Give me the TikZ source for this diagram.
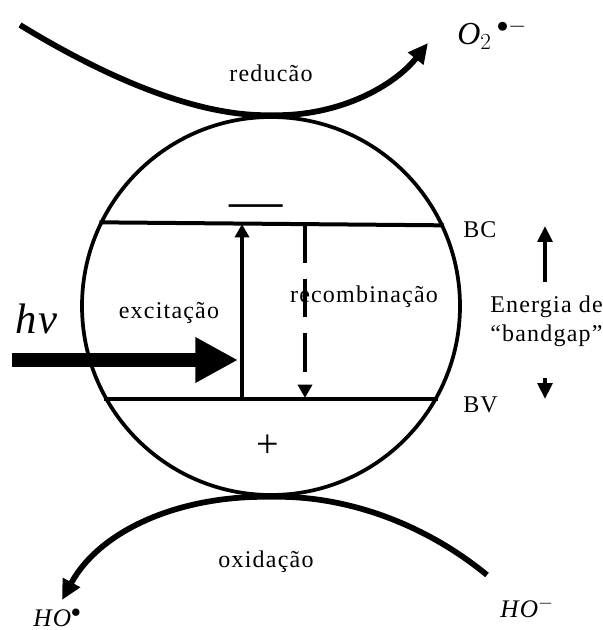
\documentclass[tikz,border=0pt]{standalone}
\usepackage{fontspec}
\setmainfont{Liberation Serif}[LetterSpace=5]
\usetikzlibrary{arrows.meta}

\begin{document}
\begin{tikzpicture}[x=0.75pt, y=-0.75pt,
  every node/.style={font=\fontsize{18}{21}\selectfont, inner sep=0pt},
  band/.style={line width=3pt},
  flow/.style={line width=4.3pt, -{Triangle[length=15pt, width=14pt]}},
  trans/.style={line width=2.8pt, -{Triangle[length=10pt, width=10.5pt]}},
  gaparr/.style={line width=3pt, -{Triangle[length=12pt, width=11pt]}},
  beam/.style={line width=10.5pt, -{Triangle[length=32pt, width=32pt]}},
  chem/.style={font=\fontsize{19}{21}\selectfont\itshape}
]
  \useasboundingbox (0,0) rectangle (602,630);

  % semiconductor particle
  \node[draw, circle, line width=2.8pt, minimum size=283.5pt] (grain) at (271,306) {};

  % bands
  \draw[band] (grain.154.3) -- (grain.25.7);
  \draw[band] (grain.209.1) -- (grain.-29.1);
  \node[anchor=base west] (bc) at (463,238) {BC};
  \node[anchor=base west] (bv) at (463,412) {BV};
  \node[font=\fontsize{40}{40}\selectfont] (elec) at (256,212) {—};
  \node[font=\fontsize{30}{30}\selectfont] (hole) at (268,446) {+};

  % excitation / recombination
  \coordinate (excLo) at (242,398);
  \coordinate (excHi) at (242,224);
  \coordinate (recHi) at (305,224);
  \coordinate (recLo) at (305,398);
  \node[anchor=base] (exc) at (169,318) {excitação};
  \node[anchor=base] (rec) at (364,302) {recombinação};
  \draw[trans] (excLo) -- (excHi);
  \draw[trans, dash pattern=on 29pt off 12pt] (recHi) -- (recLo);

  % light
  \node[anchor=base west, font=\fontsize{32}{32}\selectfont\itshape] (hv) at (15,333) {hv};
  \coordinate (photon) at (12,360);
  \coordinate (absorb) at (238,360);
  \draw[beam] (photon) -- (absorb);

  % band gap
  \node[anchor=base west, align=left, font=\fontsize{18}{21.5}\selectfont] (gap) at (490,341) {Energia de\\“bandgap”};
  \coordinate (gapUp) at (545,282);
  \coordinate (gapTop) at (545,226);
  \coordinate (gapDn) at (545,378);
  \coordinate (gapBot) at (545,399);
  \draw[gaparr] (gapUp) -- (gapTop);
  \draw[gaparr] (gapDn) -- (gapBot);

  % reduction
  \coordinate (redIn) at (20,25);
  \coordinate (redOut) at (428,43);
  \draw[flow] (redIn) .. controls (110,80) and (200,117) .. (grain.north)
    .. controls (340,117) and (395,85) .. (redOut);
  \node[anchor=base] (red) at (271,82) {reducão};
  \node[anchor=west, font=\fontsize{24}{24}\selectfont\itshape] (o2) at (457,34) {O$_2$\,$^{\bullet-}$};

  % oxidation
  \coordinate (oxIn) at (487,575);
  \coordinate (oxOut) at (62,600);
  \draw[flow] (oxIn) .. controls (420,520) and (340,495) .. (grain.south)
    .. controls (180,495) and (100,530) .. (oxOut);
  \node[anchor=base] (ox) at (266,567) {oxidação};
  \node[chem, anchor=base west] (hoRad) at (33,626) {HO$^{\bullet}$};
  \node[chem, anchor=base west] (hoIon) at (500,617) {HO$^{-}$};
\end{tikzpicture}
\end{document}
